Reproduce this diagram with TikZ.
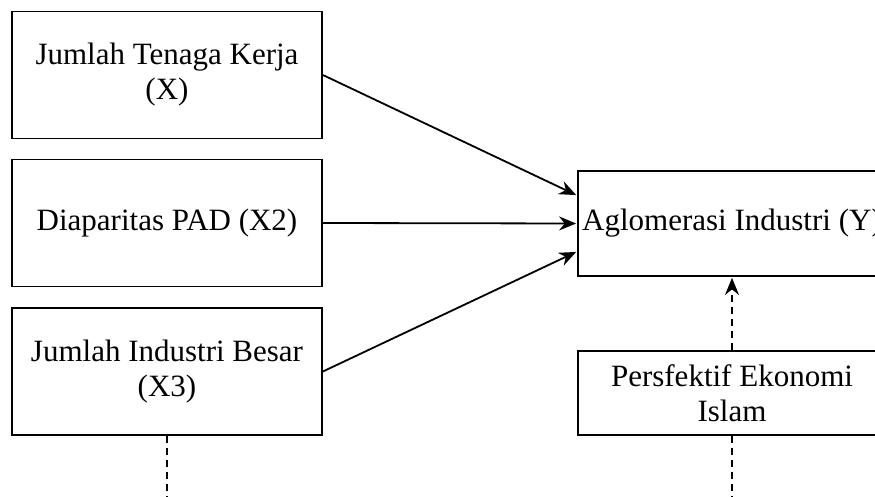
\documentclass[tikz,border=0pt]{standalone}
\usepackage{fontspec}
\setmainfont{Liberation Serif}
\usetikzlibrary{arrows.meta}

\begin{document}
\begin{tikzpicture}[x=1pt, y=-1pt, >={Stealth[length=17pt, width=14pt]}, line width=1.8pt]
    \tikzstyle{var}=[draw, rectangle, inner sep=0pt, minimum width=310pt, minimum height=127pt, align=center, font=\fontsize{31}{35}\selectfont]
    \tikzstyle{link}=[->, shorten >=1pt]
    \tikzstyle{moderator}=[dash pattern=on 7pt off 5pt]

    \useasboundingbox (0,0) rectangle (875,497);
    \clip (0,0) rectangle (875,497);

    % Variables on the left with their labels
    \node[var] (x1) at (167,75) {Jumlah Tenaga Kerja\\(X)};
    \node[var] (x2) at (167,223) {Diaparitas PAD (X2)};
    \node[var] (x3) at (167,371.5) {Jumlah Industri Besar\\(X3)};

    % Dependent variable and moderating box on the right
    \node[var, minimum width=308pt, minimum height=105pt] (y) at (732,223.5) {Aglomerasi Industri (Y)};
    \node[var, minimum width=308pt, minimum height=84pt] (islam) at (732,393) {Persfektif Ekonomi\\Islam};

    % Free ends of the dashed lines at the bottom
    \coordinate (x3end) at (167,497);
    \coordinate (islamend) at (732,497);

    % Arrows
    \draw[link] (x1.east) -- ([yshift=28pt]y.west);
    \draw[link] (x2.east) -- (y.west);
    \draw[link] (x3.east) -- ([yshift=-28pt]y.west);
    \draw[link, moderator] (islam.north) -- (y.south);
    \draw[moderator] (x3.south) -- (x3end);
    \draw[moderator] (islam.south) -- (islamend);
\end{tikzpicture}
\end{document}
